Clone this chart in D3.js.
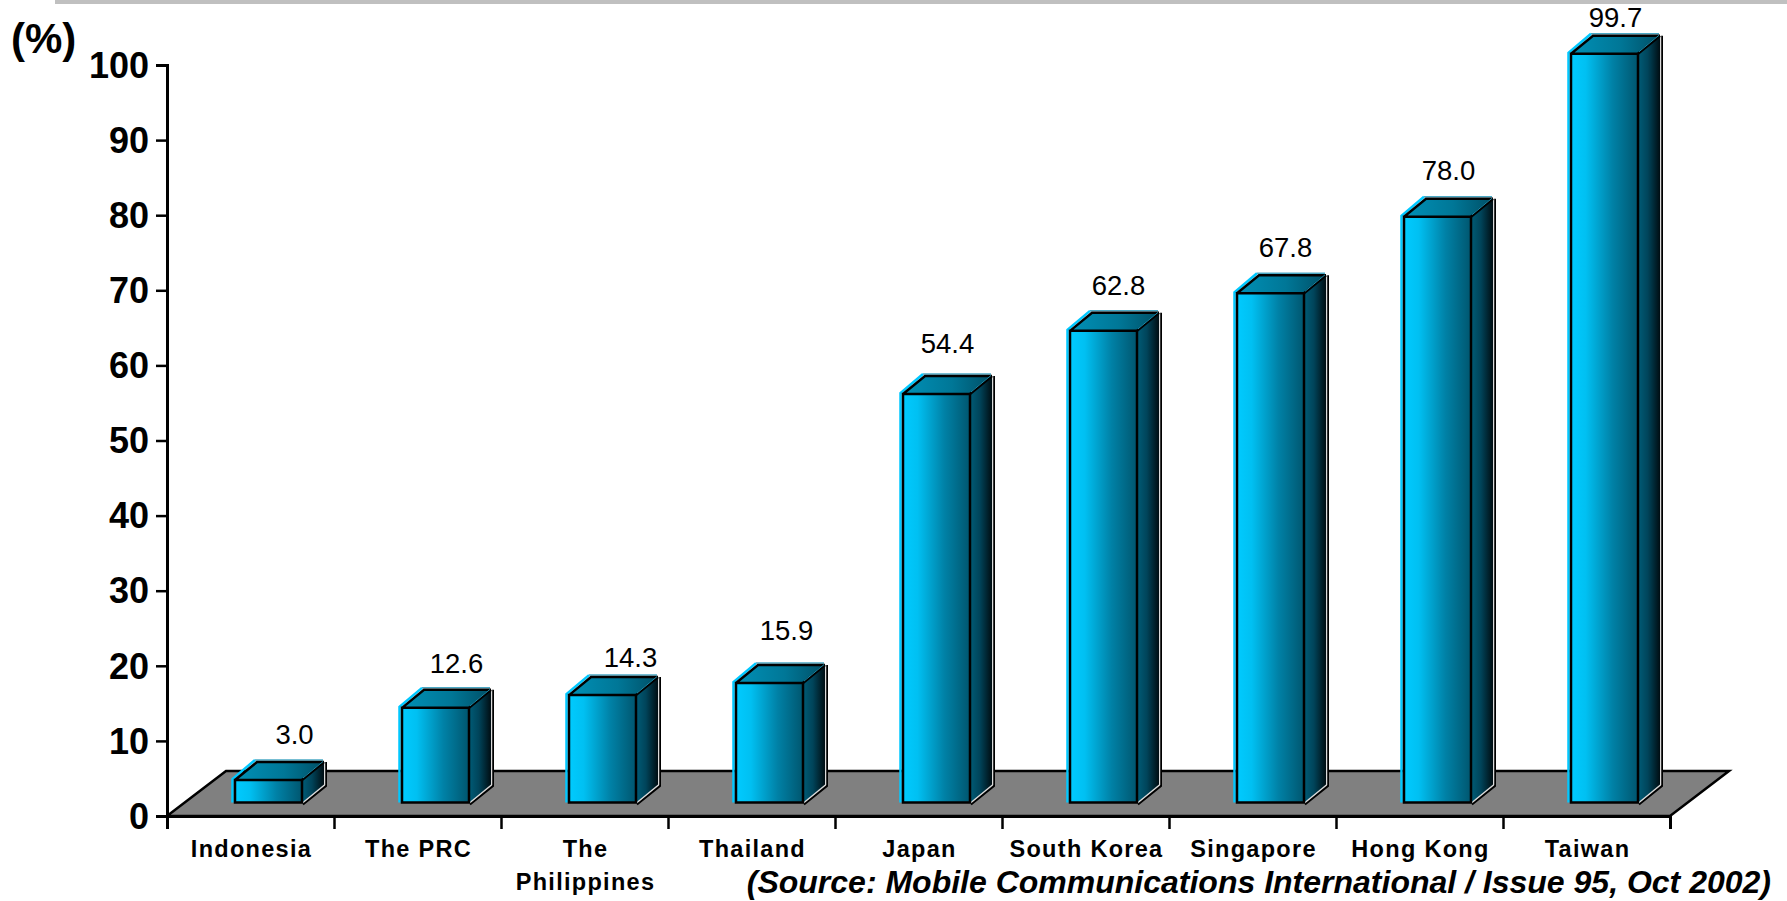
<!DOCTYPE html>
<html>
<head>
<meta charset="utf-8">
<script src="https://cdnjs.cloudflare.com/ajax/libs/d3/7.8.5/d3.min.js"></script>
<style>
html,body{margin:0;padding:0;background:#fff;overflow:hidden}
text{font-family:"Liberation Sans",Arial,sans-serif;fill:#000}
</style>
</head>
<body>
<svg id="chart" width="1787" height="901"></svg>
<script>
// Mobile phone penetration by market, 2002
const categories = ["Indonesia","The PRC","The Philippines","Thailand","Japan","South Korea","Singapore","Hong Kong","Taiwan"];
const penetration = [3.0,12.6,14.3,15.9,54.4,62.8,67.8,78.0,99.7];
const valueTicks = [0,10,20,30,40,50,60,70,80,90,100];
const labelLines = [["Indonesia"],["The PRC"],["The","Philippines"],["Thailand"],["Japan"],["South Korea"],["Singapore"],["Hong Kong"],["Taiwan"]];
const sourceNote = "(Source: Mobile Communications International / Issue 95, Oct 2002)";
const unitLabel = "(%)";

const svg = d3.select("#chart");
const plot = {left:167, right:1670, top:65, bottom:816};
const depth = {dx:22, dy:-18};          // oblique projection of the bar depth
const floorDepth = {dx:59, dy:-45};     // oblique projection of the floor
const baseInset = 13.5;                 // bars stand this far behind the floor's front edge
const barWidth = 67, barInset = 68;

const y = d3.scaleLinear().domain([0,100]).range([plot.bottom,plot.top]);
const x = d3.scaleBand().domain(categories).range([plot.left,plot.right]).padding(0);
const xEdge = d3.scaleLinear().domain([0,categories.length]).range([plot.left,plot.right]);

// Value labels sit slightly irregularly above their bars
const labelNudgeX = [15,10,17,6,0,4,4,0,0];
const labelNudgeY = [45,44,38,53,50,45,46,46,36];

// Gradients
const defs = svg.append("defs");
function hGrad(id,stops){
  const g = defs.append("linearGradient").attr("id",id).attr("x1",0).attr("x2",1).attr("y1",0).attr("y2",0);
  stops.forEach(s=>g.append("stop").attr("offset",s[0]).attr("stop-color",s[1]));
}
hGrad("front",[[0,"#00cbff"],[0.22,"#00c0f2"],[0.62,"#0081a6"],[1,"#00566f"]]);
hGrad("side",[[0,"#005c77"],[0.45,"#00445a"],[1,"#000d12"]]);
hGrad("top",[[0,"#0090b6"],[0.55,"#007797"],[1,"#004f66"]]);

// Rule across the top of the slide
svg.append("rect").attr("x",55).attr("y",0).attr("width",1732).attr("height",4).attr("fill","#c0c0c0");

// Floor
const pts = a => a.map(p=>p.join(",")).join(" ");
svg.append("polygon")
  .attr("points",pts([
    [plot.left,plot.bottom],[plot.right,plot.bottom],
    [plot.right+floorDepth.dx,plot.bottom+floorDepth.dy],
    [plot.left+floorDepth.dx,plot.bottom+floorDepth.dy]]))
  .attr("fill","#808080").attr("stroke","#000").attr("stroke-width",2.5).attr("stroke-linejoin","miter");

// Axes
const yAxis = d3.axisLeft(y).tickValues(valueTicks).tickSize(11).tickPadding(7);
const gy = svg.append("g").attr("transform",`translate(${plot.left},0)`).call(yAxis);
gy.selectAll("path").attr("stroke","#000").attr("stroke-width",3);
gy.selectAll("line").attr("stroke","#000").attr("stroke-width",2.5);
gy.selectAll("text").attr("font-size",36).attr("font-weight","bold").attr("font-family",'"Liberation Sans",Arial,sans-serif').attr("fill","#000").attr("dy","0.34em");

const xAxis = d3.axisBottom(xEdge).tickValues(d3.range(categories.length+1)).tickSize(13).tickFormat("");
const gx = svg.append("g").attr("transform",`translate(0,${plot.bottom})`).call(xAxis);
gx.selectAll("path").attr("stroke","#000").attr("stroke-width",3);
gx.selectAll("line").attr("stroke","#000").attr("stroke-width",2.5);

// Bars
const bars = svg.append("g").selectAll("g").data(categories.map((c,i)=>({c,v:penetration[i],i}))).join("g")
  .each(function(d){
    const g = d3.select(this);
    const x0 = x(d.c)+barInset, x1 = x0+barWidth;
    const yb = plot.bottom-baseInset;
    const yt = yb-(y(0)-y(d.v));
    const {dx,dy} = depth;
    // outer offset edges: cyan on the light side, white and black on the far side
    g.append("polyline").attr("points",pts([[x0-2.5,yb],[x0-2.5,yt-1],[x0+dx-2,yt+dy-2]]))
      .attr("fill","none").attr("stroke","#00c8ff").attr("stroke-width",2.5);
    g.append("line").attr("x1",x0+dx-2).attr("y1",yt+dy-2).attr("x2",x1+dx-1).attr("y2",yt+dy-2)
      .attr("stroke","#4aa8c4").attr("stroke-width",1.5);
    g.append("polyline").attr("points",pts([[x1+dx+2,yt+dy],[x1+dx+2,yb+dy+1.5],[x1+1,yb+2]]))
      .attr("fill","none").attr("stroke","#000").attr("stroke-width",2);
    g.append("polyline").attr("points",pts([[x1+dx,yt+dy],[x1+dx,yb+dy],[x1,yb]]))
      .attr("fill","none").attr("stroke","#dcdcdc").attr("stroke-width",2.5);
    // the three visible faces
    g.append("polygon").attr("points",pts([[x1,yt],[x1+dx,yt+dy],[x1+dx,yb+dy],[x1,yb]]))
      .attr("fill","url(#side)");
    g.append("polygon").attr("points",pts([[x0,yt],[x0+dx,yt+dy],[x1+dx,yt+dy],[x1,yt]]))
      .attr("fill","url(#top)");
    g.append("rect").attr("x",x0).attr("y",yt).attr("width",barWidth).attr("height",yb-yt)
      .attr("fill","url(#front)");
    // face edges
    g.append("path").attr("d",`M${x0},${yb}V${yt}H${x1}V${yb}Z M${x0},${yt}L${x0+dx},${yt+dy}H${x1+dx}`)
      .attr("fill","none").attr("stroke","#000").attr("stroke-width",2.5);
    g.append("line").attr("x1",x1).attr("y1",yt).attr("x2",x1+dx).attr("y2",yt+dy)
      .attr("stroke","#000").attr("stroke-width",2.5);
    g.append("line").attr("x1",x1+1).attr("y1",yt-2).attr("x2",x1+dx-1).attr("y2",yt+dy-0.5)
      .attr("stroke","#1d8aa8").attr("stroke-width",1);
    // value label
    g.append("text").attr("x",(x0+x1)/2+dx/2+labelNudgeX[d.i]).attr("y",yt-labelNudgeY[d.i])
      .attr("text-anchor","middle").attr("dominant-baseline","central")
      .attr("font-size",27.5).text(d.v.toFixed(1));
  });

// Category labels
svg.append("g").selectAll("text").data(categories).join("text")
  .attr("y",857)
  .attr("text-anchor","middle").attr("font-size",23.5).attr("font-weight","bold")
  .attr("letter-spacing",1.3)
  .each(function(d,i){
    d3.select(this).selectAll("tspan").data(labelLines[i]).join("tspan")
      .attr("x",x(d)+x.bandwidth()/2+1).attr("dy",(l,k)=>k?33:0).text(l=>l);
  });

// Unit and source notes
svg.append("text").attr("x",11).attr("y",53).attr("font-size",42).attr("font-weight","bold").text(unitLabel);
svg.append("text").attr("x",1771).attr("y",893).attr("text-anchor","end")
  .attr("font-size",32).attr("font-weight","bold").attr("font-style","italic").text(sourceNote);
</script>
</body>
</html>
